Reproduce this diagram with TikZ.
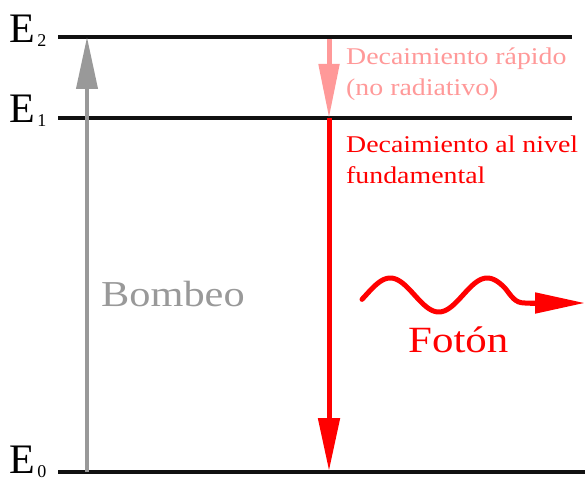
\documentclass[tikz,border=0pt]{standalone}
\usepackage{fontspec}
\setmainfont{Liberation Serif}
\newfontfamily\widefont[FakeStretch=1.16]{Liberation Serif}
\usetikzlibrary{arrows.meta}
\definecolor{levelblack}{HTML}{111111}
\definecolor{pumpgray}{HTML}{999999}
\definecolor{fastpink}{HTML}{FF9999}
\definecolor{emitred}{HTML}{FF0000}
\begin{document}
\begin{tikzpicture}[x=1pt,y=-1pt,
  level/.style={draw=levelblack, line width=4pt},
  elabel/.style={anchor=base west, inner sep=0pt, font=\fontsize{42}{42}\selectfont},
  txt/.style={anchor=base west, inner sep=0pt, align=left},
  bigarrow/.style={line width=5pt}
]
\useasboundingbox (0,0) rectangle (585,478);
% level end points
\coordinate (e2l) at (58,37);  \coordinate (e2r) at (572,37);
\coordinate (e1l) at (58,118); \coordinate (e1r) at (572,118);
\coordinate (e0l) at (58,472); \coordinate (e0r) at (585,472);
\draw[level] (e2l) -- (e2r);
\draw[level] (e1l) -- (e1r);
\draw[level] (e0l) -- (e0r);
% level labels
\node[elabel] (E2) at (9,43) {E\kern2.5pt\raisebox{-4pt}{\fontsize{18}{18}\selectfont 2}};
\node[elabel] (E1) at (9,123) {E\kern2.5pt\raisebox{-4pt}{\fontsize{18}{18}\selectfont 1}};
\node[elabel] (E0) at (9,473) {E\kern2.5pt\raisebox{-4pt}{\fontsize{18}{18}\selectfont 0}};
% pumping arrow
\coordinate (pb) at (87,472); \coordinate (pt) at (87,37);
\draw[pumpgray, line width=4pt, -{Triangle[length=52pt,width=21pt]}] (pb) -- (pt);
% fast decay
\coordinate (fa) at (329,39); \coordinate (fb) at (329,118);
\draw[fastpink, bigarrow, -{Triangle[length=54pt,width=20pt]}] (fa) -- (fb);
% decay to ground
\coordinate (ra) at (329,118); \coordinate (rb) at (329,471);
\draw[emitred, bigarrow, -{Triangle[length=53pt,width=21pt]}] (ra) -- (rb);
% texts (base anchor = baseline of last line)
\node[txt, text=fastpink, font=\widefont\fontsize{24}{31}\selectfont] (t1) at (346,96)
  {Decaimiento rápido\\(no radiativo)};
\node[txt, text=emitred, font=\widefont\fontsize{24}{32}\selectfont] (t2) at (346,184)
  {Decaimiento al nivel\\fundamental};
\node[txt, text=pumpgray, font=\widefont\fontsize{36.5}{40}\selectfont] (bombeo) at (101,306) {Bombeo};
\node[txt, text=emitred, font=\widefont\fontsize{37}{40}\selectfont] (foton) at (408,352) {Fotón};
% photon wave
\coordinate (wend) at (585,303);
\draw[emitred, line width=5pt, line cap=round]
  plot[domain=362:505, samples=80] (\x, {295-17*sin(3.7113*(\x-366))})
  .. controls (512,297) and (515,303) .. (525,303) -- (540,303);
\draw[emitred, line width=5pt, -{Triangle[length=50pt,width=20pt]}] (530,303) -- (wend);
\end{tikzpicture}
\end{document}
